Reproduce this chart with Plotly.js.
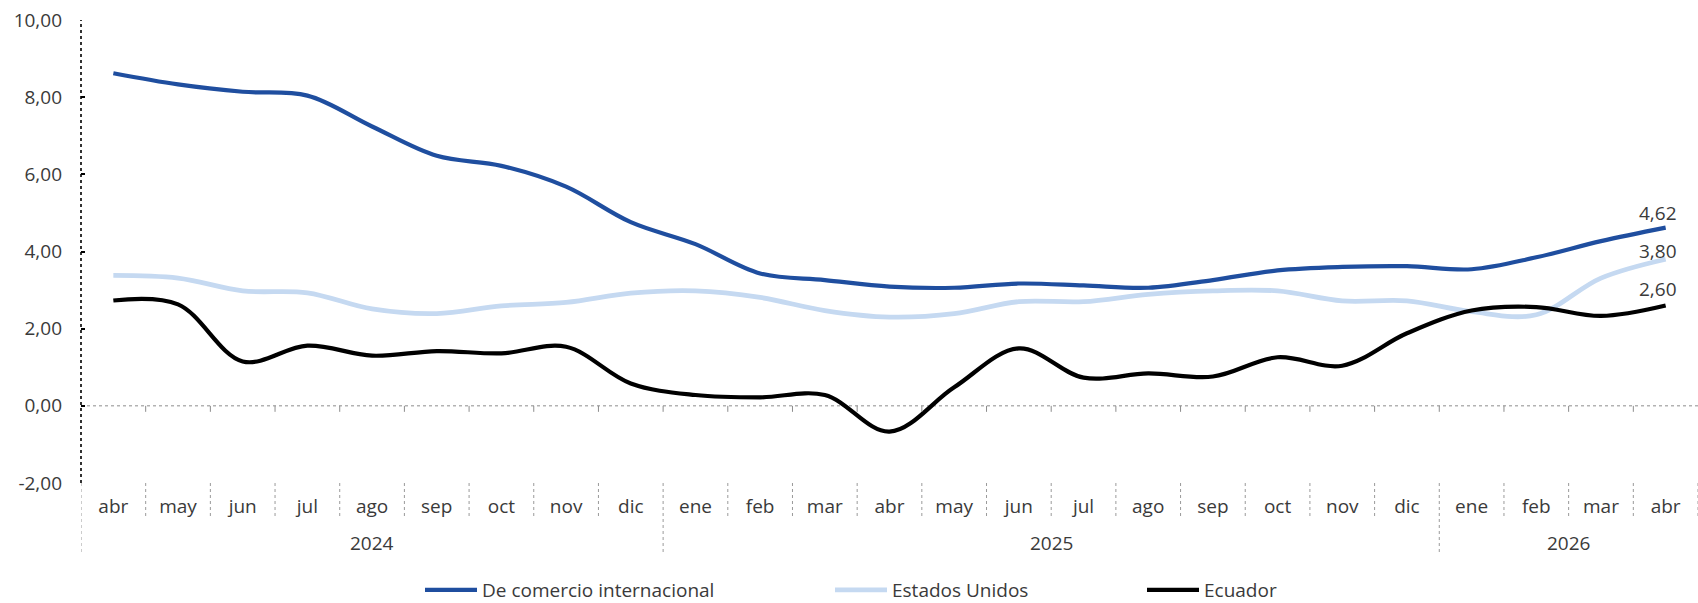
<!DOCTYPE html>
<html>
<head>
<meta charset="utf-8">
<script src="https://cdn.plot.ly/plotly-3.0.1.min.js"></script>
<style>html,body{margin:0;padding:0;background:#fff;}#chart{width:1698px;height:603px;}</style>
</head>
<body>
<div id="chart"></div>
<script>
const months = ['abr','may','jun','jul','ago','sep','oct','nov','dic','ene','feb','mar','abr','may','jun','jul','ago','sep','oct','nov','dic','ene','feb','mar','abr'];
const years = ['2024','2025','2026'];
const yearMonthCounts = [9, 12, 4];

const comercioInternacional = [8.62,8.33,8.14,8.04,7.24,6.48,6.22,5.68,4.76,4.19,3.43,3.26,3.09,3.06,3.17,3.12,3.06,3.26,3.51,3.60,3.62,3.54,3.85,4.27,4.62];
const estadosUnidos = [3.38,3.31,2.98,2.93,2.51,2.39,2.59,2.68,2.92,2.98,2.81,2.47,2.30,2.39,2.70,2.70,2.89,2.98,2.98,2.72,2.72,2.44,2.36,3.31,3.80];
const ecuador = [2.73,2.63,1.15,1.56,1.30,1.42,1.36,1.53,0.58,0.28,0.22,0.28,-0.67,0.48,1.49,0.73,0.84,0.76,1.26,1.04,1.88,2.47,2.56,2.33,2.60];

const seriesNames = ['De comercio internacional','Estados Unidos','Ecuador'];
const yTickVals = [-2,0,2,4,6,8,10];
const yTickLabels = ['-2,00','0,00','2,00','4,00','6,00','8,00','10,00'];

const seriesData = [comercioInternacional, estadosUnidos, ecuador];
const styles = [
  {color:'#1F4E9F', width:4.2, legend:'legend',  lx:420, labelShift:15},
  {color:'#C5D9F1', width:4.8, legend:'legend2', lx:830, labelShift:8},
  {color:'#000000', width:4.2, legend:'legend3', lx:1142, labelShift:17}
];
const textColor = '#3a3a3a';
const fontFamily = '"Open Sans", Lato, sans-serif';

const xIdx = months.map((m,i)=>i);
const fmt = v => v.toFixed(2).replace('.', ',');

const traces = seriesData.map((d,k)=>({
  type:'scatter', mode:'lines', x:xIdx, y:d, name:seriesNames[k],
  line:{color:styles[k].color, width:styles[k].width, shape:'spline', smoothing:1},
  legend:styles[k].legend, hoverinfo:'skip'
}));

const shapes = [];
shapes.push({type:'line', xref:'paper', yref:'y', x0:0, x1:0, y0:yTickVals[0], y1:yTickVals[yTickVals.length-1],
  line:{color:'#000', width:1.6, dash:'dot'}, layer:'above'});
shapes.push({type:'line', xref:'paper', yref:'y', x0:0, x1:1, y0:0, y1:0,
  line:{color:'#8c8c8c', width:1, dash:'dot'}, layer:'below'});
const yearStarts = [];
let acc = 0;
yearMonthCounts.forEach(c=>{ yearStarts.push(acc); acc += c; });
for (let i=0;i<=months.length;i++){
  const bx = i - 0.5;
  if (i>0 && i<months.length) {
    shapes.push({type:'line', xref:'x', yref:'y', ysizemode:'pixel', yanchor:0, x0:bx, x1:bx, y0:0, y1:-6,
      line:{color:'#8c8c8c', width:1}});
  }
  const isYear = yearStarts.indexOf(i) >= 0;
  shapes.push({type:'line', xref:'x', yref:'paper', ysizemode:'pixel', yanchor:0, x0:bx, x1:bx, y0:0, y1:isYear?-72:-36,
    line:{color:'#9a9a9a', width:1, dash:'dot'}});
}

const annotations = [];
years.forEach((yr,j)=>{
  const c = yearStarts[j] + (yearMonthCounts[j]-1)/2;
  annotations.push({xref:'x', yref:'paper', x:c, y:0, yshift:-60, yanchor:'middle', xanchor:'center',
    text:yr, showarrow:false, font:{family:fontFamily, size:19, color:textColor}});
});
seriesData.forEach((d,k)=>{
  const last = d.length-1;
  annotations.push({xref:'x', yref:'y', x:last, y:d[last], xshift:-8, yshift:styles[k].labelShift, yanchor:'middle', xanchor:'center',
    text:fmt(d[last]), showarrow:false, font:{family:fontFamily, size:19, color:textColor}});
});

const legendBase = {orientation:'h', xref:'container', yref:'container', y:1-590/603, yanchor:'middle', xanchor:'left',
  itemwidth:52, font:{family:fontFamily, size:19, color:textColor}, bgcolor:'rgba(0,0,0,0)', borderwidth:0};
const layout = {
  width:1698, height:603,
  margin:{l:81, r:0, t:20, b:120, pad:0},
  paper_bgcolor:'#fff', plot_bgcolor:'#fff',
  font:{family:fontFamily, size:19, color:textColor},
  showlegend:true,
  xaxis:{range:[-0.5, months.length-0.5], tickmode:'array', tickvals:xIdx, ticktext:months,
    showgrid:false, zeroline:false, showline:false, ticks:'', ticklabelstandoff:10,
    tickfont:{family:fontFamily, size:19, color:textColor}, fixedrange:true},
  yaxis:{range:[-2,10], tickmode:'array', tickvals:yTickVals, ticktext:yTickLabels,
    showgrid:false, zeroline:false, showline:false, ticks:'inside', ticklen:4, tickwidth:2, tickcolor:'#000',
    ticklabelstandoff:18, tickfont:{family:fontFamily, size:19, color:textColor}, fixedrange:true},
  shapes:shapes, annotations:annotations,
  legend:Object.assign({}, legendBase, {x:styles[0].lx/1698}),
  legend2:Object.assign({}, legendBase, {x:styles[1].lx/1698}),
  legend3:Object.assign({}, legendBase, {x:styles[2].lx/1698})
};
Plotly.newPlot('chart', traces, layout, {displayModeBar:false, staticPlot:true});
</script>
</body>
</html>
